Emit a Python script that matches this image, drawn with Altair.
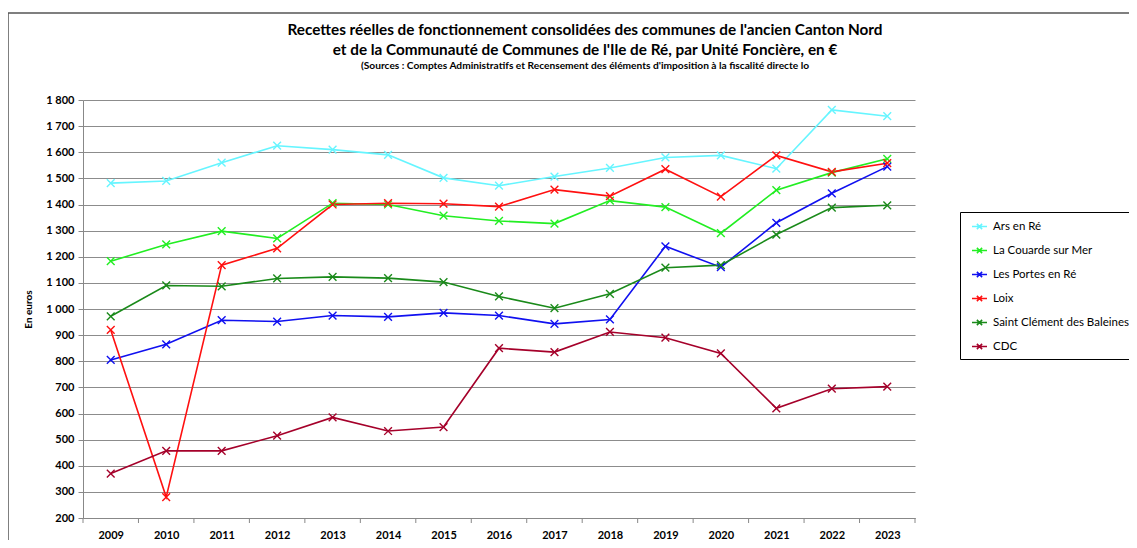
import altair as alt
import pandas as pd

years = list(range(2009, 2024))
series = ["Ars en Ré", "La Couarde sur Mer", "Les Portes en Ré", "Loix",
          "Saint Clément des Baleines", "CDC"]
colors = ["#66F5FF", "#22EE22", "#1010F0", "#FF1010", "#1A8A1A", "#A5002A"]

ars = [1482, 1490, 1560, 1625, 1610, 1590, 1502, 1472, 1507, 1540, 1580, 1588, 1537, 1762, 1738]
couarde = [1183, 1247, 1298, 1270, 1405, 1400, 1357, 1337, 1327, 1415, 1390, 1290, 1455, 1522, 1575]
portes = [805, 865, 957, 952, 975, 970, 985, 975, 943, 960, 1240, 1160, 1330, 1443, 1545]
loix = [920, 280, 1168, 1232, 1400, 1405, 1403, 1392, 1457, 1432, 1535, 1430, 1588, 1525, 1558]
stclement = [972, 1090, 1087, 1117, 1123, 1118, 1103, 1048, 1003, 1058, 1158, 1168, 1285, 1388, 1397]
cdc = [370, 457, 457, 515, 585, 533, 548, 850, 835, 912, 890, 830, 620, 695, 703]

title_lines = [
    "Recettes réelles de fonctionnement consolidées des communes de l'ancien Canton Nord",
    "et de la Communauté de Communes de l'Ile de Ré, par Unité Foncière, en €",
    "(Sources : Comptes Administratifs et Recensement des éléments d'imposition à la fiscalité directe lo",
]
y_ticks = list(range(200, 1801, 100))

values = [ars, couarde, portes, loix, stclement, cdc]
rows = []
for name, vals in zip(series, values):
    for y, v in zip(years, vals):
        rows.append({"Année": y, "Commune": name, "Valeur": v})
df = pd.DataFrame(rows)

tick_pos = pd.DataFrame({"t": [y - 0.5 for y in years] + [years[-1] + 0.5]})

FONT = "Lato"

xscale = alt.Scale(domain=[2008.5, 2023.5], nice=False, zero=False)
yscale = alt.Scale(domain=[200, 1800], nice=False, zero=False)

xaxis = alt.Axis(values=years, format="d", ticks=False, grid=False,
                 title=None, domainColor="#888", labelFont=FONT,
                 labelFontSize=11, labelFontWeight="bold",
                 labelColor="#000", labelPadding=11, labelFlush=False,
                 labelOverlap=False)
yaxis = alt.Axis(values=y_ticks,
                 labelExpr="replace(format(datum.value, ','), ',', ' ')",
                 labelOverlap=False,
                 title="En euros", titleFont=FONT, titleFontSize=10,
                 titleFontWeight="bold", titleColor="#000",
                 titlePadding=12, domainColor="#888",
                 tickColor="#888", tickSize=5, gridColor="#8c8c8c",
                 gridWidth=1, labelFont=FONT, labelFontSize=11,
                 labelFontWeight="bold", labelColor="#000",
                 labelPadding=4)

color = alt.Color("Commune:N", sort=series,
                  scale=alt.Scale(domain=series, range=colors),
                  legend=alt.Legend(
                      title=None, orient="none", legendX=877, legendY=112,
                      strokeColor="#000", fillColor="#fff", padding=6,
                      rowPadding=9, labelFont=FONT, labelFontSize=11.5,
                      labelColor="#000", labelLimit=300, labelOffset=5,
                      symbolOffset=5,
                      symbolType="M-1,0L1,0M-0.35,-0.35L0.35,0.35M-0.35,0.35L0.35,-0.35",
                      symbolSize=225, symbolStrokeWidth=1.5,
                      symbolFillColor="transparent"))

base = alt.Chart(df)

lines = base.mark_line(strokeWidth=1.6).encode(
    x=alt.X("Année:Q", scale=xscale, axis=xaxis),
    y=alt.Y("Valeur:Q", scale=yscale, axis=yaxis),
    color=color,
)

points = base.mark_point(
    shape="M-1,-1L1,1M-1,1L1,-1", size=60, filled=False, strokeWidth=1.4,
    opacity=1).encode(
    x=alt.X("Année:Q", scale=xscale, axis=xaxis),
    y=alt.Y("Valeur:Q", scale=yscale, axis=yaxis),
    color=color,
)

xticks = alt.Chart(tick_pos).mark_rule(color="#888").encode(
    x=alt.X("t:Q", scale=xscale, axis=xaxis, title=None),
    y=alt.value(418), y2=alt.value(423))

one = pd.DataFrame({"a": [0]})
border = alt.Chart(one).mark_rect(
    fill="transparent", stroke="#555", strokeWidth=1.5).encode(
    x=alt.value(-75), x2=alt.value(1300), y=alt.value(-87), y2=alt.value(700))

t1 = alt.Chart(one).mark_text(
    text=title_lines[0], font=FONT, fontSize=15.3, fontWeight="bold",
    color="#000", align="center", baseline="middle").encode(
    x=alt.value(502), y=alt.value(-70))
t2 = alt.Chart(one).mark_text(
    text=title_lines[1], font=FONT, fontSize=15.3, fontWeight="bold",
    color="#000", align="center", baseline="middle").encode(
    x=alt.value(502), y=alt.value(-50))
t3 = alt.Chart(one).mark_text(
    text=title_lines[2], font=FONT, fontSize=10.2, fontWeight="bold",
    color="#000", align="center", baseline="middle").encode(
    x=alt.value(502), y=alt.value(-34))

chart = alt.layer(border, xticks, lines, points, t1, t2, t3).properties(
    width=832, height=418,
    autosize=alt.AutoSizeParams(type="none"),
    padding={"left": 75, "top": 92, "right": 214, "bottom": 22},
).configure_view(stroke=None)

chart.save("out.html", embed_options={"renderer": "svg", "actions": False})
